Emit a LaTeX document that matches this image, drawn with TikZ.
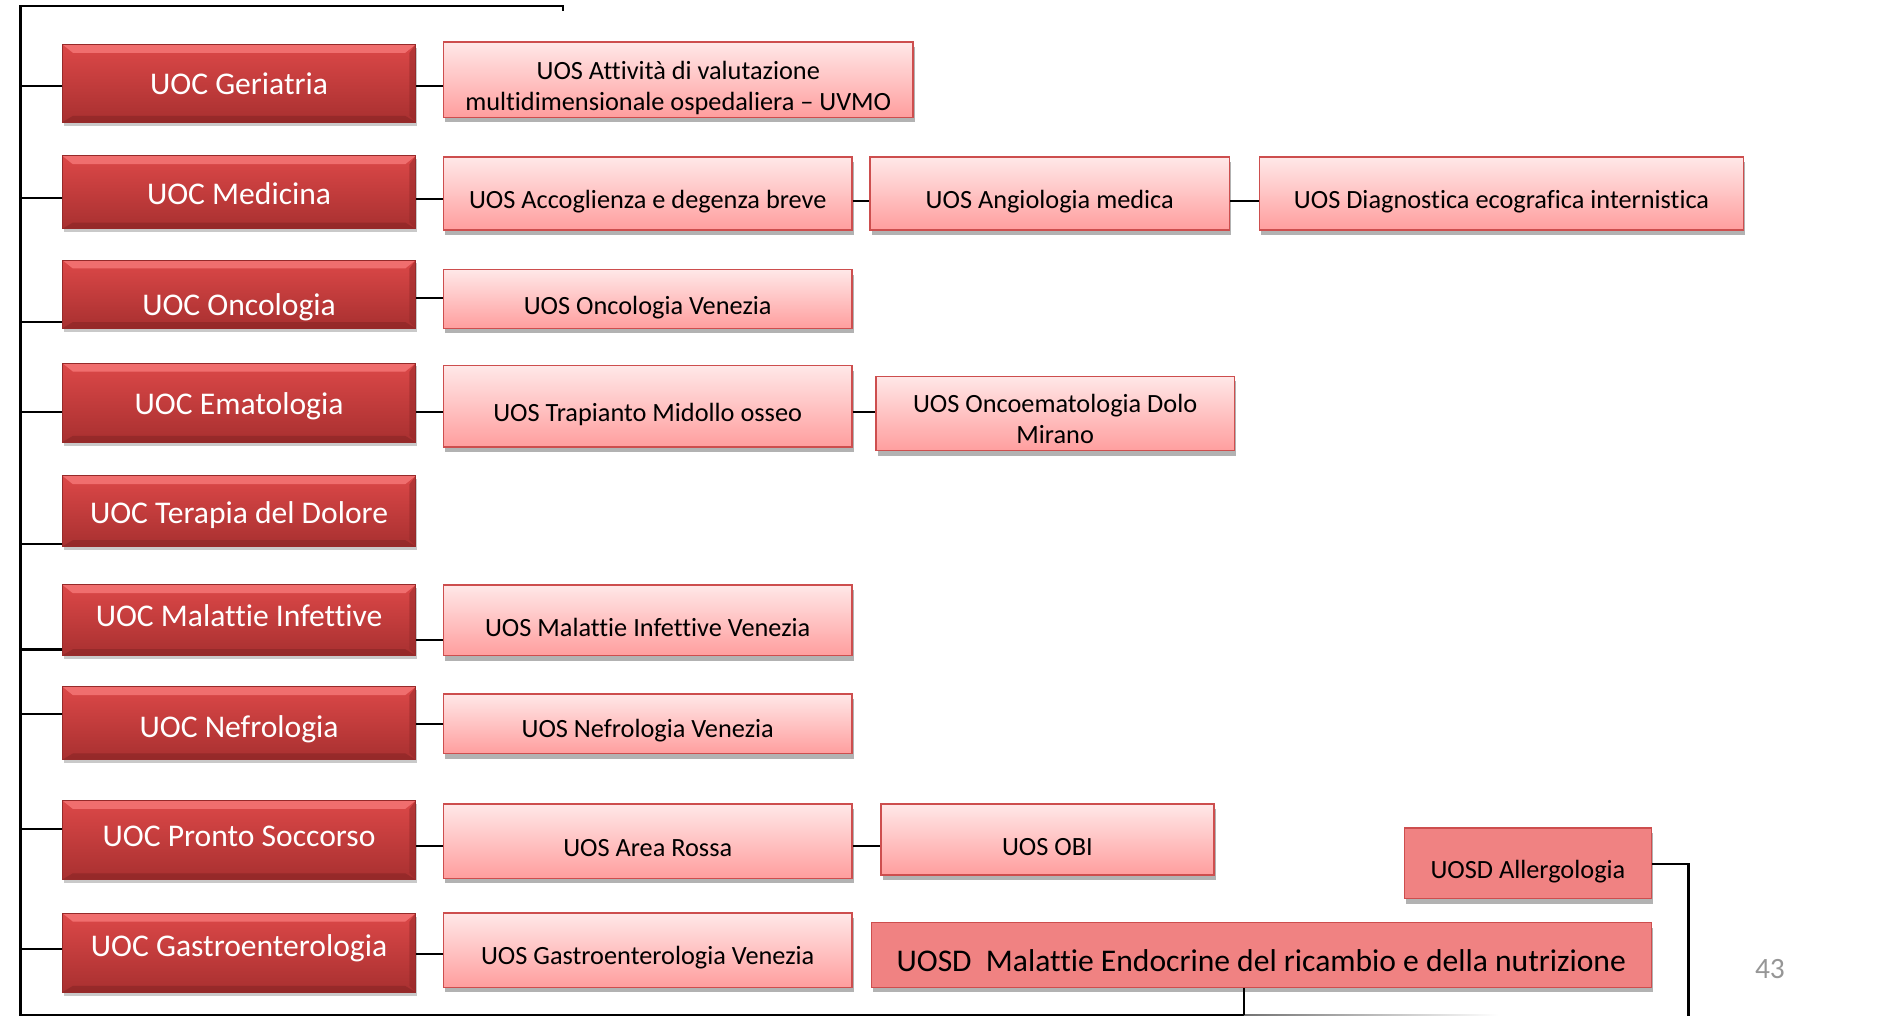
\documentclass[tikz,border=0pt]{standalone}
\usepackage{fontspec}
\setmainfont{Carlito}[Ligatures=NoCommon]
\usetikzlibrary{shadows}
\definecolor{uoctop}{RGB}{220,72,72}
\definecolor{uocbot}{RGB}{168,48,48}
\definecolor{uocbevt}{RGB}{240,110,110}
\definecolor{uocbevb}{RGB}{145,40,40}
\definecolor{uocedge}{RGB}{150,42,42}
\definecolor{uostop}{RGB}{255,232,232}
\definecolor{uosbot}{RGB}{255,158,158}
\definecolor{uosedge}{RGB}{205,78,78}
\definecolor{uosdfill}{RGB}{240,130,130}
\definecolor{pagenum}{RGB}{150,150,150}
\newcommand{\sh}[2]{\raisebox{#1}[\height][\depth]{#2}}
\tikzset{
  uoc/.style={rectangle, draw=uocedge, line width=0.4pt, top color=uoctop, bottom color=uocbot,
    text=white, font=\fontsize{15}{18}\selectfont, minimum width=5.9cm, inner sep=0pt,
    drop shadow={shadow xshift=0.6pt, shadow yshift=-1.6pt, opacity=0.3, fill=black!70},
    path picture={
      \fill[uocbevt] (path picture bounding box.north west) -- (path picture bounding box.north east)
        -- ([shift={(-5pt,-4pt)}]path picture bounding box.north east) -- ([shift={(5pt,-4pt)}]path picture bounding box.north west) -- cycle;
      \fill[uocbevb, opacity=0.8] (path picture bounding box.south west) -- (path picture bounding box.south east)
        -- ([shift={(-5pt,3pt)}]path picture bounding box.south east) -- ([shift={(5pt,3pt)}]path picture bounding box.south west) -- cycle;
      \fill[uocbevb, opacity=0.5] (path picture bounding box.north east) -- (path picture bounding box.south east)
        -- ([shift={(-3pt,3pt)}]path picture bounding box.south east) -- ([shift={(-3pt,-4pt)}]path picture bounding box.north east) -- cycle;
    }},
  uos/.style={rectangle, draw=uosedge, line width=0.7pt, top color=uostop, bottom color=uosbot,
    text=black, font=\fontsize{12.5}{15}\selectfont, inner sep=0pt,
    drop shadow={shadow xshift=0.8pt, shadow yshift=-2.4pt, opacity=0.55, fill=black!55}},
  uosd/.style={rectangle, draw=uosedge, line width=0.7pt, fill=uosdfill,
    text=black, font=\fontsize{12.5}{15}\selectfont, inner sep=0pt,
    drop shadow={shadow xshift=0.8pt, shadow yshift=-2.4pt, opacity=0.55, fill=black!55}},
  conn/.style={draw=black, line width=1pt},
  trunk/.style={draw=black, line width=1.1pt}
}
\begin{document}
\begin{tikzpicture}[x=0.02cm,y=-0.02cm]
\useasboundingbox (0,0) rectangle (1568,848);

% UOC boxes
\node[uoc, minimum height=1.30cm] (geriatria) at (199.5,69.5) {\sh{-0.2pt}{UOC Geriatria}};
\node[uoc, minimum height=1.22cm] (medicina) at (199.5,160.5) {\sh{-0.8pt}{UOC Medicina}};
\node[uoc, minimum height=1.14cm] (oncologia) at (199.5,245.5) {\sh{-6.2pt}{UOC Oncologia}};
\node[uoc, minimum height=1.32cm] (ematologia) at (199.5,336) {\sh{-1.7pt}{UOC Ematologia}};
\node[uoc, minimum height=1.18cm] (terapia) at (199.5,426.5) {\sh{-1.7pt}{UOC Terapia del Dolore}};
\node[uoc, minimum height=1.18cm] (malinf) at (199.5,517.5) {\sh{2pt}{UOC Malattie Infettive}};
\node[uoc, minimum height=1.22cm] (nefrologia) at (199.5,603.5) {\sh{-3.1pt}{UOC Nefrologia}};
\node[uoc, minimum height=1.32cm] (pronto) at (199.5,701) {\sh{1.7pt}{UOC Pronto Soccorso}};
\node[uoc, minimum height=1.32cm] (gastro) at (199.5,795) {\sh{2.3pt}{UOC Gastroenterologia}};

% UOS boxes
\node[uos, minimum width=7.84cm, minimum height=1.26cm] (attivita) at (566,66.5)
  {\sh{-4.3pt}{\begin{tabular}{@{}c@{}}UOS Attività di valutazione\\multidimensionale ospedaliera – UVMO\end{tabular}}};
\node[uos, minimum width=6.82cm, minimum height=1.22cm] (accoglienza) at (540.5,161.5) {\sh{-4pt}{UOS Accoglienza e degenza breve}};
\node[uos, minimum width=6.0cm, minimum height=1.22cm] (angiologia) at (876,161.5) {\sh{-4pt}{UOS Angiologia medica}};
\node[uos, minimum width=8.08cm, minimum height=1.22cm] (diagnostica) at (1253,161.5) {\sh{-4pt}{UOS Diagnostica ecografica internistica}};
\node[uos, minimum width=6.82cm, minimum height=0.98cm] (oncven) at (540.5,249.5) {\sh{-4pt}{UOS Oncologia Venezia}};
\node[uos, minimum width=6.82cm, minimum height=1.36cm] (trapianto) at (540.5,339) {\sh{-4pt}{UOS Trapianto Midollo osseo}};
\node[uos, minimum width=5.98cm, minimum height=1.24cm] (oncoem) at (880.5,345)
  {\sh{-4pt}{\begin{tabular}{@{}c@{}}UOS Oncoematologia Dolo\\Mirano\end{tabular}}};
\node[uos, minimum width=6.82cm, minimum height=1.18cm] (malinfven) at (540.5,517.5) {\sh{-3.5pt}{UOS Malattie Infettive Venezia}};
\node[uos, minimum width=6.82cm, minimum height=1.0cm] (nefroven) at (540.5,604) {\sh{-3.3pt}{UOS Nefrologia Venezia}};
\node[uos, minimum width=6.82cm, minimum height=1.24cm] (arearossa) at (540.5,702) {\sh{-3.3pt}{UOS Area Rossa}};
\node[uos, minimum width=5.56cm, minimum height=1.18cm] (obi) at (874,700.5) {\sh{-3.8pt}{UOS OBI}};
\node[uos, minimum width=6.82cm, minimum height=1.24cm] (gastroven) at (540.5,793) {\sh{-3.3pt}{UOS Gastroenterologia Venezia}};

% UOSD boxes
\node[uosd, minimum width=4.12cm, minimum height=1.18cm] (allergo) at (1275,720.5) {\sh{-4pt}{UOSD Allergologia}};
\node[uosd, minimum width=13.02cm, minimum height=1.08cm, font=\fontsize{15}{18}\selectfont] (endo) at (1052.5,797)
  {\sh{-2.8pt}{UOSD\ \ Malattie Endocrine del ricambio e della nutrizione}};

% page number
\node[text=pagenum, font=\fontsize{14}{16}\selectfont] (pnum) at (1477,809) {43};

% trunk
\coordinate (topend) at (470,9);
\coordinate (topcorner) at (470,5);
\coordinate (top0) at (17,5);
\coordinate (bot0) at (17,847);
\coordinate (bend) at (1038,847);
\coordinate (aldown) at (1409,848);
\draw[trunk] (topend) -- (topcorner) -- (top0) -- (bot0) -- (bend);
\shade[left color=black!55, right color=white] (1038,846.2) rectangle (1250,847.8);

% left connectors
\foreach \n/\yy in {geriatria/72, medicina/165, oncologia/269, ematologia/344, terapia/454,
                    malinf/542, nefrologia/596, pronto/692, gastro/792}
  \draw[conn] (top0 |- 0,\yy) -- (\n.west |- 0,\yy);

% UOC -> UOS and UOS -> UOS
\foreach \a/\b/\yy in {geriatria/attivita/72, medicina/accoglienza/166, oncologia/oncven/249,
                       ematologia/trapianto/344, malinf/malinfven/534, nefrologia/nefroven/604,
                       pronto/arearossa/706, gastro/gastroven/796,
                       accoglienza/angiologia/168, angiologia/diagnostica/168,
                       trapianto/oncoem/344, arearossa/obi/706}
  \draw[conn] (\a.east |- 0,\yy) -- (\b.west |- 0,\yy);

% UOSD connectors
\draw[conn] (allergo.east |- 0,721) -| (aldown);
\draw[conn] (endo.south -| bend) -- (bend);
\end{tikzpicture}
\end{document}
